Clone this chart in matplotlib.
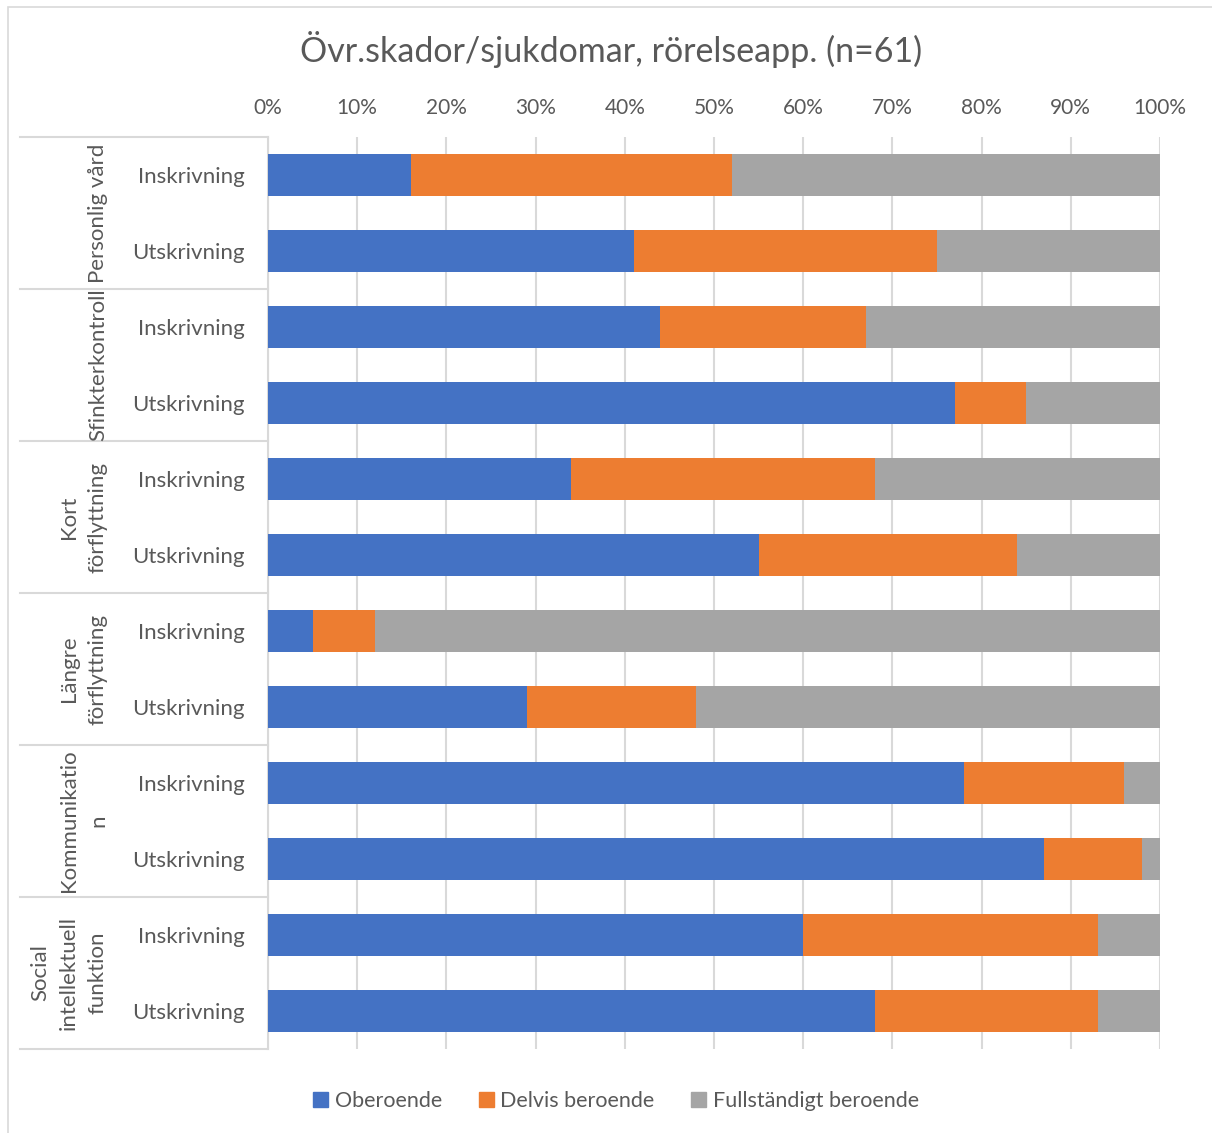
import matplotlib.pyplot as plt
from matplotlib.patches import Patch, Rectangle

plt.rcParams['font.family'] = ['Lato', 'DejaVu Sans']

groups = ['Personlig vård', 'Sfinkterkontroll', 'Kort\nförflyttning',
          'Längre\nförflyttning', 'Kommunikatio\nn', 'Social\nintellektuell\nfunktion']
phases = ['Inskrivning', 'Utskrivning']

# percent per row, two rows (in/ut) per group
oberoende = [16, 41, 44, 77, 34, 55, 5, 29, 78, 87, 60, 68]
delvis = [36, 34, 23, 8, 34, 29, 7, 19, 18, 11, 33, 25]
fullst = [48, 25, 33, 15, 32, 16, 88, 52, 4, 2, 7, 7]

series = [('Oberoende', oberoende, '#4472C4'),
          ('Delvis beroende', delvis, '#ED7D31'),
          ('Fullständigt beroende', fullst, '#A5A5A5')]

W, H = 1212, 1133
fig = plt.figure(figsize=(W / 100, H / 100), dpi=100)
ax = fig.add_axes([268 / W, 1 - 1049 / H, (1160 - 268) / W, (1049 - 137) / H])

# outer chart frame
fig.patches.append(Rectangle((8 / W, -0.01), 1.0, 1 - 7 / H + 0.01, transform=fig.transFigure,
                             fill=False, edgecolor='#D9D9D9', linewidth=1.2))

rows = list(range(len(oberoende)))
left = [0] * len(rows)
for name, vals, col in series:
    ax.barh(rows, vals, left=left, height=0.55, color=col, label=name, zorder=3)
    left = [a + b for a, b in zip(left, vals)]

ax.set_xlim(0, 100)
ax.set_ylim(len(rows) - 0.5, -0.5)
ax.set_xticks(range(0, 101, 10))
ax.set_xticklabels([f'{v}%' for v in range(0, 101, 10)])
ax.xaxis.tick_top()
ax.grid(axis='x', color='#D9D9D9', linewidth=1.5, zorder=0)
ax.set_yticks(rows)
ax.set_yticklabels(phases * len(groups))
ax.tick_params(axis='x', length=0, pad=14, labelsize=15, labelcolor='#595959')
ax.tick_params(axis='y', length=0, pad=17, labelsize=16, labelcolor='#595959')
for s in ['top', 'right', 'bottom']:
    ax.spines[s].set_visible(False)
ax.spines['left'].set_color('#D9D9D9')
ax.spines['left'].set_linewidth(1.5)

# group labels and separators of the category column
tr = ax.get_yaxis_transform()
x_sep = (20 - 268) / (1160 - 268)
x_lab = (108 - 268) / (1160 - 268)
for i, g in enumerate(groups):
    ax.text(x_lab, 2 * i + 0.5, g, transform=tr, rotation=90, ha='right', va='center',
            multialignment='center', fontsize=16, color='#595959', linespacing=1.55)
for b in range(len(groups) + 1):
    y = 2 * b - 0.5
    ax.plot([x_sep, 0], [y, y], transform=tr, color='#D9D9D9', linewidth=1.5, clip_on=False)

fig.text(611 / W, 1 - 50 / H, 'Övr.skador/sjukdomar, rörelseapp. (n=61)',
         ha='center', va='center', fontsize=24.5, color='#595959')

handles = [Patch(color=c, label=n) for n, _, c in series]
fig.legend(handles=handles, loc='center', bbox_to_anchor=(616 / W, 1 - 1101 / H), ncol=3,
           frameon=False, fontsize=15.5, labelcolor='#595959', handlelength=0.7,
           handleheight=0.7, handletextpad=0.3, columnspacing=1.7)

fig.savefig('out.png', dpi=100)
